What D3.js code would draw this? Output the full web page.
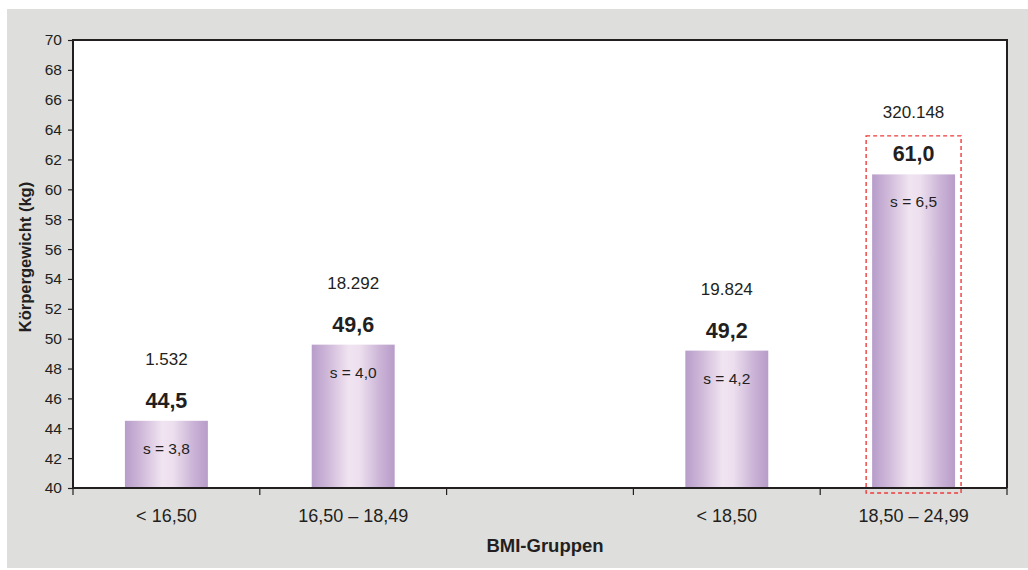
<!DOCTYPE html>
<html>
<head>
<meta charset="utf-8">
<script src="https://cdn.jsdelivr.net/npm/d3@7"></script>
<style>
  html, body { margin: 0; padding: 0; background: #ffffff; }
  svg { display: block; font-family: "Liberation Sans", Arial, sans-serif; }
</style>
</head>
<body>
<svg id="chart" width="1028" height="570"></svg>
<script>
// BMI groups (the empty slot separates the two classification schemes)
const categories = ["< 16,50", "16,50 – 18,49", "", "< 18,50", "18,50 – 24,99"];
// mean body weight in kg per group
const meanWeight = [44.5, 49.6, null, 49.2, 61.0];
// group sizes
const counts = ["1.532", "18.292", null, "19.824", "320.148"];
// standard deviations
const stdDev = ["3,8", "4,0", null, "4,2", "6,5"];
// y axis ticks
const yTicks = d3.range(40, 71, 2);
// group that gets the dashed highlight frame
const highlighted = "18,50 – 24,99";

const svg = d3.select("#chart");
const W = 1028, H = 570;
const m = { left: 73, right: 1007, top: 40, bottom: 488 };
const ink = "#231f20";

// panel background
svg.append("rect").attr("x", 7).attr("y", 9).attr("width", W - 7).attr("height", 559)
  .attr("fill", "#dededd");
svg.append("rect").attr("x", m.left).attr("y", m.top)
  .attr("width", m.right - m.left).attr("height", m.bottom - m.top).attr("fill", "#ffffff");

const x = d3.scaleBand().domain(categories).range([m.left, m.right])
  .paddingInner(0.556).paddingOuter(0.278);
const y = d3.scaleLinear().domain([40, 70]).range([m.bottom, m.top]);

// bar gradient
const defs = svg.append("defs");
const grad = defs.append("linearGradient").attr("id", "barGrad")
  .attr("x1", "0%").attr("x2", "100%").attr("y1", "0%").attr("y2", "0%");
[["0%", "#b79dca"], ["18%", "#cdb6d8"], ["45%", "#f1e4f1"], ["58%", "#eddfee"], ["82%", "#cbb4d7"], ["100%", "#b89cc9"]]
  .forEach(([o, c]) => grad.append("stop").attr("offset", o).attr("stop-color", c));

const data = categories.map((c, i) => ({ cat: c, mean: meanWeight[i], n: counts[i], s: stdDev[i] }))
  .filter(d => d.mean !== null);

// bars
svg.append("g").selectAll("rect").data(data).join("rect")
  .attr("x", d => x(d.cat)).attr("width", x.bandwidth())
  .attr("y", d => y(d.mean)).attr("height", d => y(40) - y(d.mean))
  .attr("fill", "url(#barGrad)");

// highlight frame
const hd = data.find(d => d.cat === highlighted);
svg.append("rect")
  .attr("x", x(hd.cat) - 6).attr("width", x.bandwidth() + 12)
  .attr("y", y(hd.mean) - 38.5).attr("height", (m.bottom + 5) - (y(hd.mean) - 38.5))
  .attr("fill", "none").attr("stroke", "#ee3b3b").attr("stroke-width", 1.4)
  .attr("stroke-dasharray", "4,3");

// labels above and inside the bars
const lbl = svg.append("g").attr("text-anchor", "middle").attr("fill", ink);
lbl.selectAll(".n").data(data).join("text")
  .attr("x", d => x(d.cat) + x.bandwidth() / 2).attr("y", d => y(d.mean) - 56)
  .attr("font-size", 17).text(d => d.n);
lbl.selectAll(".v").data(data).join("text")
  .attr("x", d => x(d.cat) + x.bandwidth() / 2).attr("y", d => y(d.mean) - 13)
  .attr("font-size", 21.5).attr("font-weight", "bold")
  .text(d => d.mean.toFixed(1).replace(".", ","));
lbl.selectAll(".s").data(data).join("text")
  .attr("x", d => x(d.cat) + x.bandwidth() / 2).attr("y", d => y(d.mean) + 33)
  .attr("font-size", 15.5).text(d => "s = " + d.s);

// y axis
const yAxis = svg.append("g").attr("transform", `translate(${m.left},0)`)
  .call(d3.axisLeft(y).tickValues(yTicks).tickSize(5).tickPadding(6).tickFormat(d3.format("d")));
yAxis.select(".domain").remove();
yAxis.selectAll(".tick line").attr("stroke", ink).attr("stroke-width", 1.2);
yAxis.selectAll(".tick text").attr("font-size", 15.5).attr("fill", ink)
  .attr("font-family", "'Liberation Sans', Arial, sans-serif");

// x axis labels
const xAxis = svg.append("g").attr("transform", `translate(0,${m.bottom})`)
  .call(d3.axisBottom(x).tickSize(0).tickPadding(21));
xAxis.select(".domain").remove();
xAxis.selectAll(".tick text").attr("font-size", 18).attr("fill", ink)
  .attr("font-family", "'Liberation Sans', Arial, sans-serif");

// slot boundary ticks
const step = x.step();
svg.append("g").selectAll("line").data(d3.range(categories.length + 1)).join("line")
  .attr("x1", i => m.left + i * step).attr("x2", i => m.left + i * step)
  .attr("y1", m.bottom).attr("y2", m.bottom + 7)
  .attr("stroke", ink).attr("stroke-width", 1.2);

// plot frame
svg.append("path")
  .attr("d", `M${m.left},${m.bottom}V${m.top}H${m.right}V${m.bottom}`)
  .attr("fill", "none").attr("stroke", ink).attr("stroke-width", 2);
svg.append("line").attr("x1", m.left).attr("x2", m.right).attr("y1", m.bottom).attr("y2", m.bottom)
  .attr("stroke", ink).attr("stroke-width", 2);

// axis titles
svg.append("text").attr("x", 545).attr("y", 552).attr("text-anchor", "middle")
  .attr("font-size", 18.5).attr("font-weight", "bold").attr("fill", ink).text("BMI-Gruppen");
svg.append("text").attr("transform", "translate(31,257) rotate(-90)").attr("text-anchor", "middle")
  .attr("font-size", 16.5).attr("font-weight", "bold").attr("fill", ink).text("Körpergewicht (kg)");
</script>
</body>
</html>
